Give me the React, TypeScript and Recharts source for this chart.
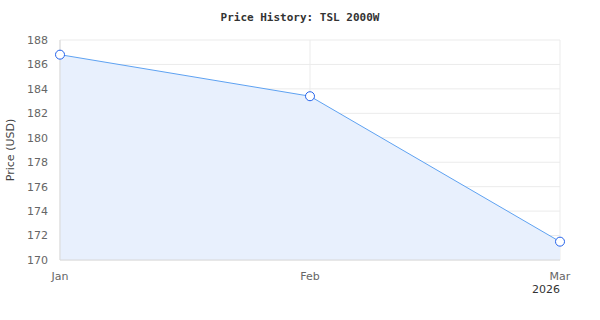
import React from 'react';
import { AreaChart, Area, XAxis, YAxis, CartesianGrid } from 'recharts';

const months = ['Jan', 'Feb', 'Mar'];
const prices = [186.8, 183.4, 171.5];
const priceTicks = [170, 172, 174, 176, 178, 180, 182, 184, 186, 188];

const data = months.map((month, i) => ({ month, price: prices[i] }));

const tickFont = { fontFamily: 'DejaVu Sans, sans-serif', fontSize: 11, fill: '#666' };

export default function App() {
  return (
    <div style={{ position: 'absolute', left: 0, top: 0, width: 600, height: 320, background: '#fff' }}>
      <div
        style={{
          position: 'absolute',
          top: 11,
          width: 600,
          textAlign: 'center',
          fontFamily: 'DejaVu Sans Mono, monospace',
          fontWeight: 'bold',
          fontSize: 11,
          color: '#333',
        }}
      >
        Price History: TSL 2000W
      </div>
      <AreaChart
        width={600}
        height={320}
        data={data}
        margin={{ top: 40, right: 40, bottom: 30, left: 0 }}
      >
        <CartesianGrid stroke="#ebebeb" />
        <XAxis
          dataKey="month"
          height={30}
          padding={{ left: 0, right: 0 }}
          tickLine={false}
          axisLine={{ stroke: '#d9d9d9' }}
          tick={tickFont}
          tickMargin={6}
        />
        <YAxis
          width={60}
          domain={[170, 188]}
          ticks={priceTicks}
          tickLine={false}
          axisLine={{ stroke: '#d9d9d9' }}
          tick={tickFont}
          tickMargin={6}
          label={{
            value: 'Price (USD)',
            angle: -90,
            position: 'insideLeft',
            offset: 10,
            style: { fontFamily: 'DejaVu Sans, sans-serif', fontSize: 11, fill: '#444', textAnchor: 'middle' },
          }}
        />
        <Area
          type="linear"
          dataKey="price"
          stroke="#5ea2f2"
          strokeWidth={1}
          fill="#e8f0fd"
          fillOpacity={1}
          baseValue={170}
          dot={{ r: 4.5, fill: '#fff', stroke: '#2563eb', strokeWidth: 1 }}
          activeDot={false}
          isAnimationActive={false}
        />
      </AreaChart>
      <div
        style={{
          position: 'absolute',
          left: 520,
          top: 283,
          width: 40,
          textAlign: 'right',
          fontFamily: 'DejaVu Sans, sans-serif',
          fontSize: 11,
          color: '#333',
        }}
      >
        2026
      </div>
    </div>
  );
}
